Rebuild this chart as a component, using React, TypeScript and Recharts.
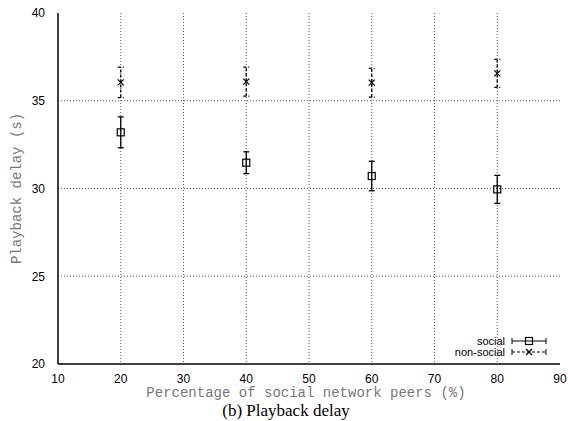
import React from 'react';
import {
  ScatterChart,
  Scatter,
  XAxis,
  YAxis,
  CartesianGrid,
  ErrorBar
} from 'recharts';

// percentage of social network peers (%)
const peers = [20, 40, 60, 80];
// playback delay (s), mean and half-width of the error bar
const socialDelay = [33.2, 31.47, 30.71, 29.95];
const socialErr = [0.88, 0.62, 0.84, 0.8];
const nonSocialDelay = [36.05, 36.09, 36.03, 36.56];
const nonSocialErr = [0.87, 0.83, 0.82, 0.8];

const seriesNames = ['social', 'non-social'];
const xTicks = [10, 20, 30, 40, 50, 60, 70, 80, 90];
const yTicks = [20, 25, 30, 35, 40];

const socialData = peers.map((p, i) => ({ x: p, y: socialDelay[i], err: socialErr[i] }));
const nonSocialData = peers.map((p, i) => ({ x: p, y: nonSocialDelay[i], err: nonSocialErr[i] }));

const SquareDot = (props: any) => {
  const { cx, cy } = props;
  return <rect x={cx - 3.5} y={cy - 3.5} width={7} height={7} fill="none" stroke="#000" strokeWidth={1.2} />;
};

const CrossDot = (props: any) => {
  const { cx, cy } = props;
  return (
    <g stroke="#000" strokeWidth={1.2}>
      <line x1={cx - 3} y1={cy - 3} x2={cx + 3} y2={cy + 3} />
      <line x1={cx - 3} y1={cy + 3} x2={cx + 3} y2={cy - 3} />
    </g>
  );
};

// gnuplot-style key in the lower right corner
const Key = () => (
  <svg width={100} height={30} style={{ position: 'absolute', left: 477, top: 333, overflow: 'visible' }}>
    {seriesNames.map((name, i) => {
      const y = 8 + i * 11;
      const dash = i === 1 ? '3 2' : undefined;
      return (
        <g key={name}>
          <text x={28} y={y + 4} textAnchor="end" fontFamily="Liberation Sans, Arial, sans-serif" fontSize={11} fill="#000">
            {name}
          </text>
          <g stroke="#000" strokeWidth={1}>
            <line x1={35} y1={y} x2={69} y2={y} strokeDasharray={dash} />
            <line x1={35} y1={y - 3} x2={35} y2={y + 3} />
            <line x1={69} y1={y - 3} x2={69} y2={y + 3} />
          </g>
          {i === 0 ? <SquareDot cx={52} cy={y} /> : <CrossDot cx={52} cy={y} />}
        </g>
      );
    })}
  </svg>
);

const YLabel = (props: any) => {
  const { viewBox } = props;
  const cy = viewBox.y + viewBox.height / 2;
  return (
    <text
      x={17}
      y={cy}
      transform={`rotate(-90, 17, ${cy})`}
      textAnchor="middle"
      dominantBaseline="central"
      fontFamily="Liberation Mono, Courier New, monospace"
      fontSize={14}
      fill="#777"
    >
      Playback delay (s)
    </text>
  );
};

const XLabel = (props: any) => {
  const { viewBox } = props;
  const cx = viewBox.x + viewBox.width / 2 - 3;
  return (
    <text
      x={cx}
      y={viewBox.y + 33}
      textAnchor="middle"
      fontFamily="Liberation Mono, Courier New, monospace"
      fontSize={14}
      fill="#777"
    >
      Percentage of social network peers (%)
    </text>
  );
};

const tickStyle = { fontFamily: 'Liberation Sans, Arial, sans-serif', fontSize: 12, fill: '#000' };

export default function App() {
  return (
    <div style={{ position: 'absolute', left: 0, top: 0, width: 568, height: 421, background: '#fff' }}>
      <ScatterChart width={568} height={421} margin={{ top: 13, right: 8, bottom: 27, left: 0 }}>
        <CartesianGrid stroke="#555" strokeDasharray="1 2" horizontalValues={[25, 30, 35]} verticalValues={[20, 30, 40, 50, 60, 70, 80]} />
        <XAxis
          type="number"
          dataKey="x"
          domain={[10, 90]}
          ticks={xTicks}
          tick={tickStyle}
          tickLine={false}
          tickMargin={4}
          axisLine={{ stroke: '#000', strokeWidth: 1.5 }}
          height={30}
          label={<XLabel />}
        />
        <XAxis xAxisId="top" orientation="top" type="number" dataKey="x" domain={[10, 90]} ticks={xTicks} tick={false} tickLine={false} height={0} axisLine={{ stroke: '#000', strokeWidth: 1.5 }} />
        <YAxis
          type="number"
          dataKey="y"
          domain={[20, 40]}
          ticks={yTicks}
          tick={tickStyle}
          tickLine={false}
          tickMargin={7}
          axisLine={{ stroke: '#000', strokeWidth: 1.5 }}
          width={58}
          label={<YLabel />}
        />
        <YAxis yAxisId="right" orientation="right" type="number" dataKey="y" domain={[20, 40]} ticks={yTicks} tick={false} tickLine={false} width={0} axisLine={{ stroke: '#000', strokeWidth: 1.5 }} />
        <Scatter name={seriesNames[0]} data={socialData} shape={<SquareDot />} isAnimationActive={false}>
          <ErrorBar dataKey="err" direction="y" width={3} stroke="#000" strokeWidth={1.3} />
        </Scatter>
        <Scatter name={seriesNames[1]} data={nonSocialData} shape={<CrossDot />} isAnimationActive={false}>
          <ErrorBar dataKey="err" direction="y" width={3} stroke="#000" strokeWidth={1.3} strokeDasharray="3 2" />
        </Scatter>
      </ScatterChart>
      <Key />
      <div
        style={{
          position: 'absolute',
          left: 0,
          width: 572,
          top: 402,
          textAlign: 'center',
          fontFamily: 'Liberation Serif, Times New Roman, serif',
          fontSize: 17,
          lineHeight: '17px',
          color: '#000'
        }}
      >
        (b) Playback delay
      </div>
    </div>
  );
}
